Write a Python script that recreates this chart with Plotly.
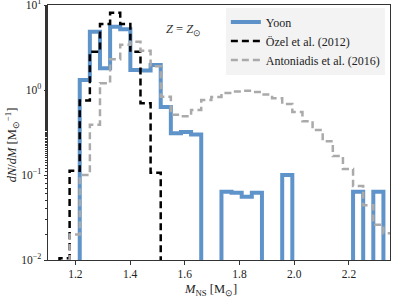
import plotly.graph_objects as go

# Shared bin edges (M_NS, solar masses)
bin_edges = [1.142, 1.179, 1.216, 1.253, 1.290, 1.327, 1.364, 1.401, 1.438, 1.475,
             1.512, 1.549, 1.586, 1.623, 1.660, 1.697, 1.734, 1.771, 1.808, 1.845,
             1.882, 1.919, 1.956, 1.993, 2.030, 2.067, 2.104, 2.141, 2.178, 2.215,
             2.252, 2.289, 2.326, 2.363]

# Yoon: bins from edge index 2 (1.216) to 32 (2.326)
yoon_start = 2
yoon_vals = [1.31, 4.85, 1.80, 5.55, 5.2, 1.72, 1.70, 1.97, 0.63, 0.31, 0.32, 0.30,
             0, 0, 0.0636, 0.062, 0.0555, 0.062, 0, 0, 0.1, 0, 0, 0, 0, 0, 0,
             0.0636, 0, 0.0636]

# Ozel et al. (2012): from edge index 0
ozel_start = 0
ozel_vals = [0.0105, 0.112, 0.75, 2.82, 5.98, 8.1, 5.98, 2.82, 0.70, 0.106]

# Antoniadis et al. (2016): from edge index 1
ant_start = 1
ant_vals = [0.02, 0.1, 0.39, 1.2, 2.3, 3.4, 3.7, 2.9, 1.9, 0.835, 0.51, 0.49, 0.58,
            0.763, 0.83, 0.92, 0.96, 0.98, 0.95, 0.885, 0.80, 0.685, 0.55, 0.43,
            0.338, 0.25, 0.167, 0.118, 0.074, 0.044, 0.026, 0.0207]

x_ticks = [1.2, 1.4, 1.6, 1.8, 2.0, 2.2]
x_ticklabels = ["1.2", "1.4", "1.6", "1.8", "2.0", "2.2"]
y_ticks = [0.01, 0.1, 1, 10]
y_ticklabels = ["10<sup>−2</sup>", "10<sup>−1</sup>", "10<sup>0</sup>", "10<sup>1</sup>"]

FLOOR = 1e-5


def step_xy(start, vals):
    edges = bin_edges[start:start + len(vals) + 1]
    ys = [v if v > 0 else FLOOR for v in vals]
    x = [edges[0]] + list(edges) + [edges[-1]]
    y = [FLOOR] + ys + [ys[-1]] + [FLOOR]
    return x, y


fig = go.Figure()
font_family = "Liberation Serif"

xs, ys = step_xy(yoon_start, yoon_vals)
fig.add_trace(go.Scatter(x=xs, y=ys, mode="lines", line_shape="hv",
                         line=dict(color="rgba(60,125,190,0.82)", width=4),
                         name="Yoon"))
xs, ys = step_xy(ozel_start, ozel_vals)
fig.add_trace(go.Scatter(x=xs, y=ys, mode="lines", line_shape="hv",
                         line=dict(color="black", width=2.5, dash="7px,4px"),
                         name="Özel et al. (2012)"))
xs, ys = step_xy(ant_start, ant_vals)
fig.add_trace(go.Scatter(x=xs, y=ys, mode="lines", line_shape="hv",
                         line=dict(color="#aaaaaa", width=2.5, dash="7px,4px"),
                         name="Antoniadis et al. (2016)"))

fig.update_layout(
    width=399, height=299,
    margin=dict(l=48, r=9, t=5, b=39, autoexpand=False),
    paper_bgcolor="white", plot_bgcolor="white",
    font=dict(family=font_family, size=11, color="#222"),
    showlegend=True,
    legend=dict(x=0.985, y=0.99, xanchor="right", yanchor="top",
                bgcolor="rgba(240,240,240,0.8)", borderwidth=0,
                font=dict(family=font_family, size=12, color="#222"),
                tracegroupgap=0, itemwidth=30),
    annotations=[
        dict(x=0.395, y=0.94, xref="paper", yref="paper",
             text="<i>Z</i> = <i>Z</i><sub>⊙</sub>", showarrow=False,
             font=dict(family=font_family, size=12.5, color="#333")),
        dict(x=0.474, y=-30 / 255, xref="paper", yref="paper", yanchor="middle",
             text="<i>M</i><sub>NS</sub> [M<sub>⊙</sub>]", showarrow=False,
             font=dict(family=font_family, size=12.5, color="#222")),
        dict(x=-36 / 342, y=0.45, xref="paper", yref="paper", xanchor="center",
             yanchor="middle", textangle=-90,
             text="<i>dN</i>/<i>dM</i> [M<sub>⊙</sub><sup>−1</sup>]", showarrow=False,
             font=dict(family=font_family, size=12.5, color="#222")),
    ],
)
fig.update_xaxes(range=[1.1, 2.35], tickvals=x_ticks, ticktext=x_ticklabels,
                 ticks="outside", ticklen=3.5, tickcolor="#333", automargin=False,
                 showline=True, linecolor="#333", linewidth=1, mirror=True,
                 showgrid=False, zeroline=False, ticklabeloverflow="allow",
                 tickfont=dict(family=font_family, size=11.5))
fig.update_yaxes(type="log", range=[-2, 1], tickvals=y_ticks, ticktext=y_ticklabels,
                 ticks="outside", ticklen=3.5, tickcolor="#333", automargin=False,
                 minor=dict(ticks="outside", ticklen=2, tickcolor="#333", showgrid=False),
                 showline=True, linecolor="#333", linewidth=1, mirror=True,
                 showgrid=False, zeroline=False, ticklabeloverflow="allow",
                 tickfont=dict(family=font_family, size=11.5))

fig.write_html("out.html", config={"displayModeBar": False},
               post_script="document.body.style.margin='0';document.body.style.overflow='hidden';")
